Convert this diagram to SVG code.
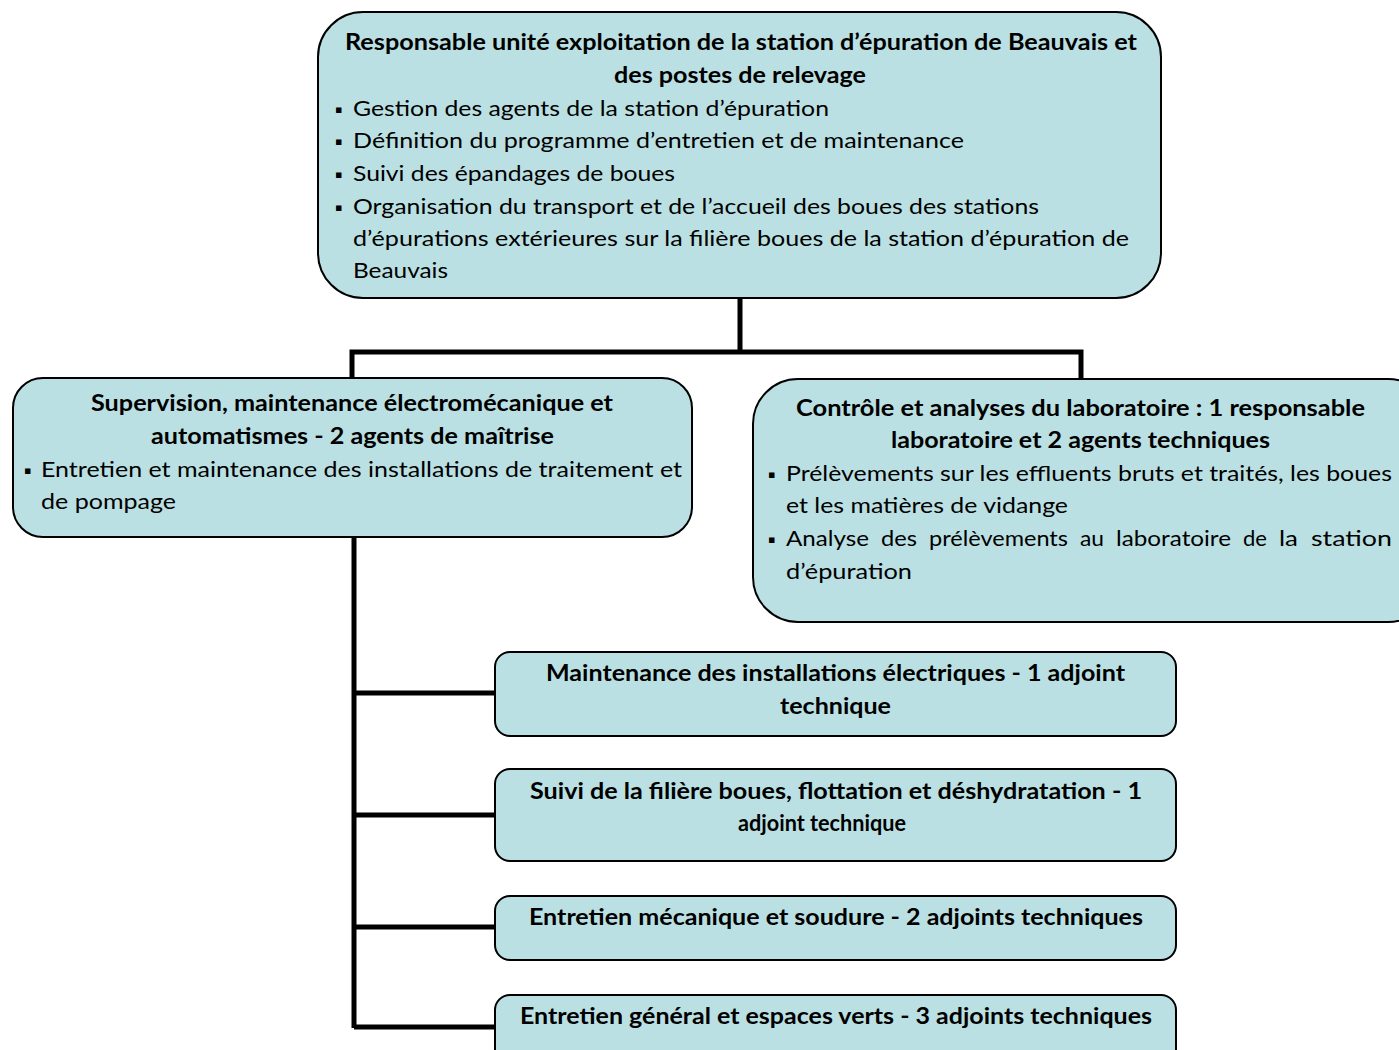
<svg xmlns="http://www.w3.org/2000/svg" width="1399" height="1050" viewBox="0 0 1399 1050">
<style>
.box{fill:#BAE0E3;stroke:#000;stroke-width:2}
.ln{fill:none;stroke:#000;stroke-width:5}
text{font-family:Lato,"Open Sans","Liberation Sans",sans-serif;font-size:22px;fill:#000}
.b{font-weight:bold}
.c{text-anchor:middle}
.bl{font-family:"DejaVu Sans",sans-serif;font-size:11px}
</style>
<rect width="1399" height="1050" fill="#fff"/>
<g id="connectors">
<path class="ln" d="M740 298 V352 M352 378 V352 H1081 V380"/>
<path class="ln" d="M354 537 V1028 M354 693 H496 M354 815 H496 M354 927 H496 M354 1027 H496"/>
</g>
<g id="n_top">
<rect class="box" x="318" y="12" width="843" height="286" rx="45"/>
<text class="b" x="345" y="50" textLength="792" lengthAdjust="spacingAndGlyphs">Responsable unité exploitation de la station d’épuration de Beauvais et</text>
<text class="b" x="614" y="83" textLength="252" lengthAdjust="spacingAndGlyphs">des postes de relevage</text>
<text class="bl" x="335" y="113">▪</text>
<text x="353" y="116" textLength="476" lengthAdjust="spacingAndGlyphs">Gestion des agents de la station d’épuration</text>
<text class="bl" x="335" y="145">▪</text>
<text x="353" y="148" textLength="611" lengthAdjust="spacingAndGlyphs">Définition du programme d’entretien et de maintenance</text>
<text class="bl" x="335" y="178">▪</text>
<text x="353" y="181" textLength="322" lengthAdjust="spacingAndGlyphs">Suivi des épandages de boues</text>
<text class="bl" x="335" y="211">▪</text>
<text x="353" y="214" textLength="686" lengthAdjust="spacingAndGlyphs">Organisation du transport et de l’accueil des boues des stations</text>
<text x="353" y="246" textLength="776" lengthAdjust="spacingAndGlyphs">d’épurations extérieures sur la filière boues de la station d’épuration de</text>
<text x="353" y="278" textLength="95" lengthAdjust="spacingAndGlyphs">Beauvais</text>
</g>
<g id="n_left">
<rect class="box" x="13" y="378" width="679" height="159" rx="30"/>
<text class="b" x="91" y="411" textLength="522" lengthAdjust="spacingAndGlyphs">Supervision, maintenance électromécanique et</text>
<text class="b" x="151" y="444" textLength="403" lengthAdjust="spacingAndGlyphs">automatismes - 2 agents de maîtrise</text>
<text class="bl" x="24" y="474">▪</text>
<text x="41" y="477" textLength="641" lengthAdjust="spacingAndGlyphs">Entretien et maintenance des installations de traitement et</text>
<text x="41" y="509" textLength="135" lengthAdjust="spacingAndGlyphs">de pompage</text>
</g>
<g id="n_right">
<rect class="box" x="753" y="379" width="680" height="243" rx="45"/>
<text class="b" x="796" y="416" textLength="569" lengthAdjust="spacingAndGlyphs">Contrôle et analyses du laboratoire :  1 responsable</text>
<text class="b" x="891" y="448" textLength="379" lengthAdjust="spacingAndGlyphs">laboratoire et 2 agents techniques</text>
<text class="bl" x="768" y="478">▪</text>
<text x="786" y="481" textLength="606" lengthAdjust="spacingAndGlyphs">Prélèvements sur les effluents bruts et traités, les boues</text>
<text x="786" y="513" textLength="282" lengthAdjust="spacingAndGlyphs">et les matières de vidange</text>
<text class="bl" x="768" y="543">▪</text>
<text y="546"><tspan x="786" textLength="83" lengthAdjust="spacingAndGlyphs">Analyse</tspan> <tspan x="881" textLength="36" lengthAdjust="spacingAndGlyphs">des</tspan> <tspan x="929" textLength="139" lengthAdjust="spacingAndGlyphs">prélèvements</tspan> <tspan x="1080" textLength="24" lengthAdjust="spacingAndGlyphs">au</tspan> <tspan x="1116" textLength="115" lengthAdjust="spacingAndGlyphs">laboratoire</tspan> <tspan x="1243" textLength="24" lengthAdjust="spacingAndGlyphs">de</tspan> <tspan x="1279" textLength="19" lengthAdjust="spacingAndGlyphs">la</tspan> <tspan x="1311" textLength="81" lengthAdjust="spacingAndGlyphs">station</tspan></text>
<text x="786" y="579" textLength="126" lengthAdjust="spacingAndGlyphs">d’épuration</text>
</g>
<g id="n_c1">
<rect class="box" x="495" y="652" width="681" height="84" rx="15"/>
<text class="b" x="546" y="681" textLength="579" lengthAdjust="spacingAndGlyphs">Maintenance des installations électriques - 1 adjoint</text>
<text class="b" x="780" y="714" textLength="111" lengthAdjust="spacingAndGlyphs">technique</text>
</g>
<g id="n_c2">
<rect class="box" x="495" y="769" width="681" height="92" rx="15"/>
<text class="b" x="530" y="799" textLength="612" lengthAdjust="spacingAndGlyphs">Suivi de la filière boues, flottation et déshydratation - 1</text>
<text class="b" x="738" y="831" textLength="168" lengthAdjust="spacingAndGlyphs">adjoint technique</text>
</g>
<g id="n_c3">
<rect class="box" x="495" y="896" width="681" height="64" rx="15"/>
<text class="b" x="529" y="925" textLength="614" lengthAdjust="spacingAndGlyphs">Entretien mécanique et soudure - 2 adjoints techniques</text>
</g>
<g id="n_c4">
<rect class="box" x="495" y="995" width="681" height="80" rx="15"/>
<text class="b" x="520" y="1024" textLength="632" lengthAdjust="spacingAndGlyphs">Entretien général et espaces verts - 3 adjoints techniques</text>
</g>
</svg>
